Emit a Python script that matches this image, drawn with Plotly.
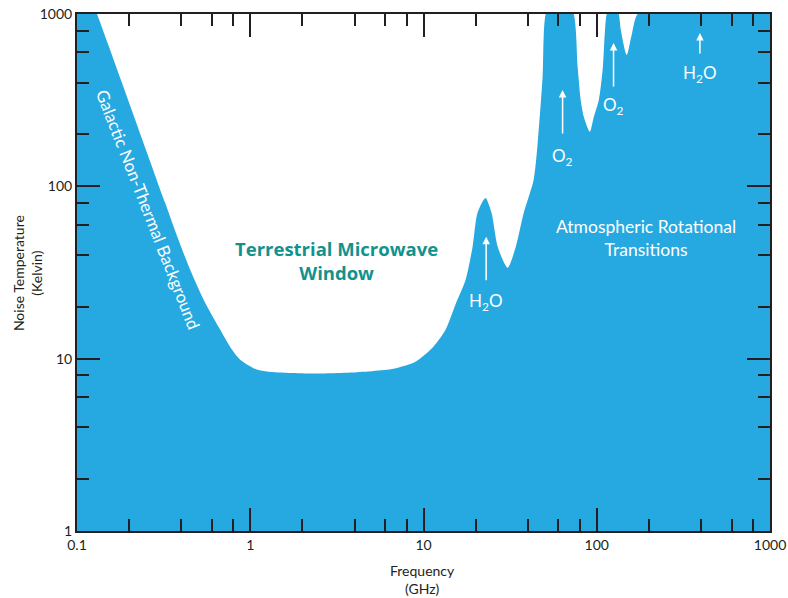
import plotly.graph_objects as go
import numpy as np

# ---- data ----
freq_ghz = [0.1, 0.1305, 0.3226, 0.378, 0.450, 0.549, 0.671, 0.766, 0.875, 1.098,
            1.49, 1.87, 2.7, 3.78, 6.71, 8.99, 11.3, 13.4, 15.3, 17.5, 19.2, 20.5,
            22.8, 24.7, 26.8, 30.6, 34.1, 37.9, 43.2, 45.6, 48.7, 50.7, 60.0, 73.6,
            77.6, 80.8, 84.2, 91.2, 96.2, 102.8, 108.5, 111.3, 114.2, 124.0, 134.0,
            137.7, 149.0, 159.0, 172.0, 300.0, 1000.0]
noise_temp_k = [2000, 1000, 80.2, 51.5, 32.8, 21.1, 14.7, 11.7, 9.87, 8.63,
                8.30, 8.23, 8.2, 8.3, 8.75, 9.6, 11.6, 14.7, 20.6, 28.7, 44.6, 70.2,
                85.7, 70.2, 44.6, 33.7, 44.6, 70.2, 109, 178, 431, 1000, 1500, 1000,
                493, 317, 253, 207, 253, 317, 493, 776, 1000, 1200, 1000,
                807, 578, 755, 1000, 1500, 1500]
baseline_k = [1, 1]
baseline_f = [0.1, 1000]

x_tick_vals = [0.1, 1, 10, 100, 1000]
x_tick_text = ["0.1", "1", "10", "100", "1000"]
y_tick_vals = [1, 10, 100, 1000]
y_tick_text = ["1", "10", "100", "1000"]
minor_mult = [2, 4, 6, 8]

BLUE = "#26A9E0"
INK = "#231F20"
TEAL = "#12928E"
FONT = "Lato"

fig = go.Figure()
fig.add_trace(go.Scatter(x=baseline_f, y=baseline_k, mode="lines",
                         line=dict(width=0, color=BLUE), hoverinfo="skip",
                         showlegend=False))
fig.add_trace(go.Scatter(x=freq_ghz, y=noise_temp_k, mode="lines",
                         line=dict(width=0, color=BLUE, shape="spline", smoothing=0.7),
                         fill="tonexty", fillcolor=BLUE, showlegend=False))

x_minor = [m * d for d in [0.1, 1, 10, 100] for m in minor_mult]
y_minor = [m * d for d in [1, 10, 100] for m in minor_mult]

axis_common = dict(type="log", showgrid=False, zeroline=False, showline=True,
                   linecolor=INK, linewidth=2, mirror="ticks", ticks="inside",
                   ticklen=23, tickwidth=2, tickcolor=INK, automargin=False,
                   tickfont=dict(family=FONT, size=14, color=INK))

fig.update_xaxes(range=[-1, 3], tickmode="array", tickvals=x_tick_vals,
                 ticktext=x_tick_text,
                 minor=dict(tickmode="array", tickvals=x_minor, ticks="inside",
                            ticklen=12, tickwidth=2, tickcolor=INK, showgrid=False),
                 **axis_common)
fig.update_yaxes(range=[0, 3], tickmode="array", tickvals=y_tick_vals,
                 ticktext=y_tick_text,
                 minor=dict(tickmode="array", tickvals=y_minor, ticks="inside",
                            ticklen=12, tickwidth=2, tickcolor=INK, showgrid=False),
                 **axis_common)

ann = []
# region labels
ann.append(dict(x=np.log10(0.257), y=1.864, xref="x", yref="y",
                text="Galactic Non-Thermal Background", showarrow=False,
                xanchor="center", yanchor="middle",
                textangle=68.6, font=dict(family=FONT, size=17, color="white")))
ann.append(dict(x=0.497, y=1.568, xref="x", yref="y",
                text="<b>Terrestrial Microwave<br>Window</b>", showarrow=False,
                xanchor="center", yanchor="middle",
                font=dict(family="Open Sans", size=18.5, color=TEAL)))
ann.append(dict(x=2.283, y=1.701, xref="x", yref="y",
                text="Atmospheric Rotational<br>Transitions", showarrow=False,
                xanchor="center", yanchor="middle",
                font=dict(family=FONT, size=17.5, color="white")))

# spectral line arrows and labels
lines = [
    (23.0, 1.707, 45, "H<sub>2</sub>O", 1.330),
    (63.5, 2.559, 45, "O<sub>2</sub>", 2.171),
    (125.0, 2.832, 45, "O<sub>2</sub>", 2.467),
    (394.0, 2.890, 22, "H<sub>2</sub>O", 2.652),
]
for f, ytip, alen, label, ylab in lines:
    ann.append(dict(x=np.log10(f), y=ytip, xref="x", yref="y", text="",
                    showarrow=True, ax=0, ay=alen, arrowhead=2, arrowsize=1,
                    arrowwidth=1.5, arrowcolor="white"))
    ann.append(dict(x=np.log10(f), y=ylab, xref="x", yref="y", text=label,
                    showarrow=False, xanchor="center", yanchor="middle",
                    font=dict(family=FONT, size=17, color="white")))

# axis titles
ann.append(dict(x=0.499, y=-0.093, xref="paper", yref="paper",
                text="Frequency<br>(GHz)", showarrow=False,
                xanchor="center", yanchor="middle",
                font=dict(family=FONT, size=14, color=INK)))
ann.append(dict(x=-0.072, y=0.499, xref="paper", yref="paper",
                text="Noise Temperature<br>(Kelvin)", showarrow=False,
                xanchor="center", yanchor="middle",
                textangle=-90, font=dict(family=FONT, size=14, color=INK)))

fig.update_layout(width=788, height=598, autosize=False,
                  margin=dict(l=77, r=18, t=14, b=67, autoexpand=False),
                  paper_bgcolor="white", plot_bgcolor="white",
                  annotations=ann, showlegend=False)

fig.write_html("out.html", config={"displayModeBar": False, "responsive": False},
               post_script="document.body.style.margin='0px';"
                           "document.body.style.overflow='hidden';")
